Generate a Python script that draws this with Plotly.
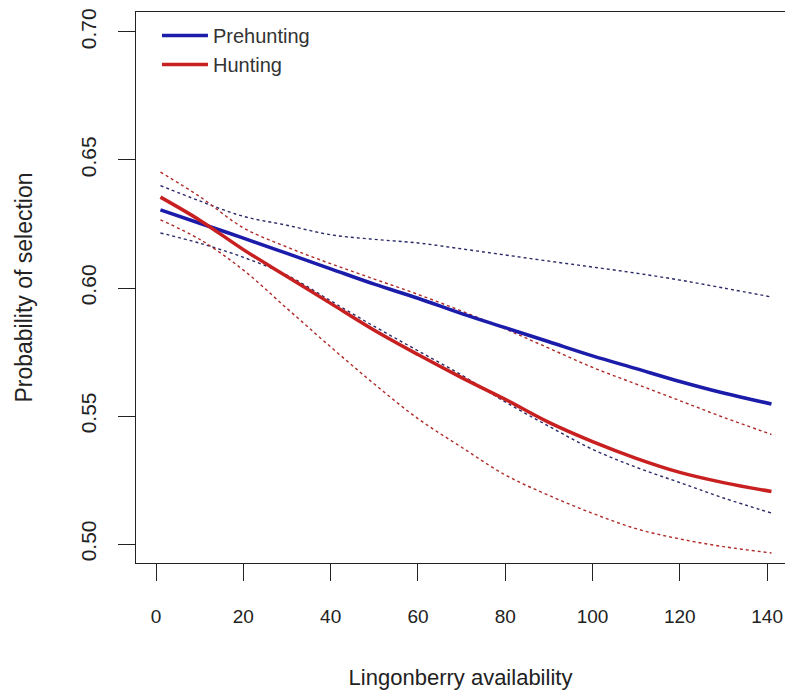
import plotly.graph_objects as go

# Data
x_vals = [1, 10, 20, 30, 40, 50, 60, 70, 80, 90, 100, 110, 120, 130, 141]
x_ticks = [0, 20, 40, 60, 80, 100, 120, 140]
y_ticks = [0.50, 0.55, 0.60, 0.65, 0.70]
y_tick_labels = ["0.50", "0.55", "0.60", "0.65", "0.70"]

prehunting_fit = [0.6305, 0.6253, 0.6195, 0.6135, 0.6075, 0.6015, 0.5960, 0.5900,
                  0.5845, 0.5790, 0.5735, 0.5685, 0.5635, 0.5590, 0.5547]
prehunting_upper = [0.6400, 0.6340, 0.6280, 0.6245, 0.6208, 0.6190, 0.6176, 0.6153,
                    0.6129, 0.6105, 0.6082, 0.6058, 0.6031, 0.6000, 0.5965]
prehunting_lower = [0.6215, 0.6175, 0.6120, 0.6050, 0.5950, 0.5850, 0.5755, 0.5660,
                    0.5555, 0.5460, 0.5370, 0.5300, 0.5240, 0.5180, 0.5121]

hunting_fit = [0.6355, 0.6265, 0.6150, 0.6045, 0.5940, 0.5835, 0.5740, 0.5650,
               0.5565, 0.5475, 0.5400, 0.5335, 0.5280, 0.5240, 0.5205]
hunting_upper = [0.6453, 0.6357, 0.6235, 0.6160, 0.6095, 0.6035, 0.5975, 0.5910,
                 0.5840, 0.5765, 0.5690, 0.5625, 0.5560, 0.5495, 0.5428]
hunting_lower = [0.6266, 0.6190, 0.6070, 0.5920, 0.5770, 0.5625, 0.5490, 0.5378,
                 0.5270, 0.5190, 0.5120, 0.5060, 0.5020, 0.4990, 0.4965]

BLUE = "#1c1caa"
RED = "#c82020"
BLUE_DOT = "#2a2a66"
RED_DOT = "#b02a2a"

fig = go.Figure()

for yv, col in [(prehunting_upper, BLUE_DOT), (prehunting_lower, BLUE_DOT),
                (hunting_upper, RED_DOT), (hunting_lower, RED_DOT)]:
    fig.add_trace(go.Scatter(x=x_vals, y=yv, mode="lines", showlegend=False,
                             line=dict(color=col, width=1.4, dash="3px,3px", shape="spline"),
                             hoverinfo="skip"))

fig.add_trace(go.Scatter(x=x_vals, y=prehunting_fit, mode="lines", name="Prehunting",
                         line=dict(color=BLUE, width=3.5, shape="spline")))
fig.add_trace(go.Scatter(x=x_vals, y=hunting_fit, mode="lines", name="Hunting",
                         line=dict(color=RED, width=3.5, shape="spline")))

fig.update_layout(
    width=785, height=696,
    margin=dict(l=136, r=0, t=12, b=133, autoexpand=False),
    paper_bgcolor="white", plot_bgcolor="white",
    font=dict(family="Liberation Sans, Arial, sans-serif", color="#222222"),
    showlegend=True,
    legend=dict(x=0.0323, y=0.9927, xanchor="left", yanchor="top",
                bgcolor="rgba(0,0,0,0)", font=dict(size=20, color="#333333"),
                itemwidth=46, tracegroupgap=0),
    xaxis=dict(
        range=[-4.6, 144.1], tickmode="array", tickvals=x_ticks,
        ticktext=[str(v) for v in x_ticks], automargin=False,
        showgrid=False, zeroline=False, showline=True, linecolor="#222222", linewidth=1.3,
        mirror=True, ticks="outside", ticklen=17, tickwidth=1.3, tickcolor="#222222",
        tickfont=dict(size=19, color="#222222"),
        ticklabelstandoff=19,
        title=dict(text="Lingonberry availability", standoff=43,
                   font=dict(size=22, color="#222222")),
    ),
    yaxis=dict(
        range=[0.4926, 0.7078], tickmode="array", tickvals=y_ticks, ticktext=y_tick_labels,
        automargin=False,
        showgrid=False, zeroline=False, showline=True, linecolor="#222222", linewidth=1.3,
        ticks="outside", ticklen=17, tickwidth=1.3, tickcolor="#222222",
        tickangle=-90, tickfont=dict(size=21, color="#222222"),
        ticklabelstandoff=13,
        title=dict(text="Probability of selection", standoff=38,
                   font=dict(size=23, color="#222222")),
    ),
)

# Remove the default 8px page margin so the figure fills the window exactly.
fig.write_html("out.html",
               config={"displayModeBar": False},
               post_script="document.body.style.margin='0';document.body.style.overflow='hidden';")
